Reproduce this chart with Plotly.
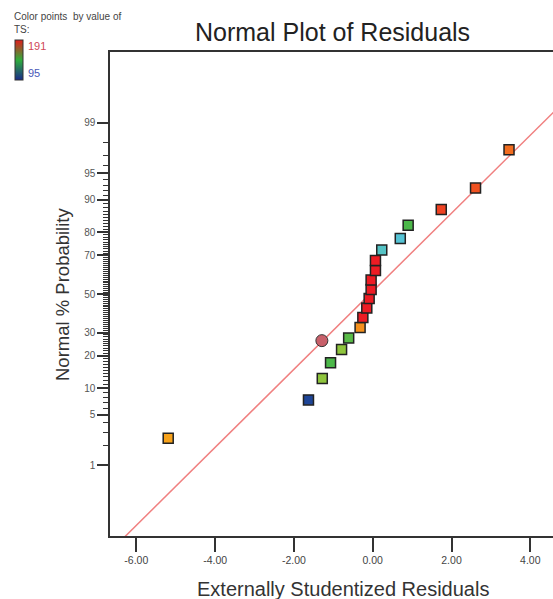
import plotly.graph_objects as go
from statistics import NormalDist

nd = NormalDist()

# ---- data ----
residuals = [-5.19, -1.63, -1.28, -1.07, -0.79, -0.61, -0.32, -0.25, -0.15, -0.09,
             -0.04, -0.04, 0.07, 0.07, 0.23, 0.70, 0.90, 1.74, 2.61, 3.46]
prob_pct = [2.5, 7.5, 12.5, 17.5, 22.5, 27.5, 32.5, 37.5, 42.5, 47.5,
            52.5, 57.5, 62.5, 67.5, 72.5, 77.5, 82.5, 87.5, 92.5, 97.5]
ts_values = [167, 96, 153, 143, 153, 145, 170, 191, 191, 191,
             191, 191, 191, 191, 122, 119, 143, 184, 181, 176]
highlight_x = [-1.29]
highlight_p = [26.3]
line_mu = -0.07
line_sigma = 1.885
line_x = [-7.0, 5.0]
ts_min, ts_max = 95, 191
y_major = [1, 5, 10, 20, 30, 50, 70, 80, 90, 95, 99]
y_minor = [p for p in range(1, 100) if p not in y_major]
x_ticks = [-6, -4, -2, 0, 2, 4]

# ---- layout geometry (pixels) ----
W, H = 553, 599
L, T, B = 110, 52, 63
plot_w = W - L
plot_h = H - T - B
X_PER = 39.4
X0_PX = 372.7
x_range = [(L - X0_PX) / X_PER, (W - X0_PX) / X_PER]
y_range = [-3.29, 3.29]


def z(p):
    return nd.inv_cdf(p / 100.0)


def px_x(px):
    return (px - L) / plot_w


def px_y(py):
    return (H - B - py) / plot_h


colorscale = [[0, '#1c3f94'], [0.25, '#55c3d5'], [0.5, '#4cb84a'], [0.6, '#8cc63e'],
              [0.75, '#f7a21b'], [0.85, '#f26a1f'], [1, '#ed1c24']]
bar_colorscale = [[0, '#1a2a8a'], [0.5, '#2fae3c'], [1, '#e21c1c']]

FONT = "Liberation Sans, Arial, sans-serif"

fig = go.Figure()

fig.add_trace(go.Scatter(
    x=line_x, y=[(v - line_mu) / line_sigma for v in line_x],
    mode='lines', line=dict(color='#f08080', width=1.5),
    hoverinfo='skip', showlegend=False))

fig.add_trace(go.Scatter(
    x=residuals, y=[z(p) for p in prob_pct], mode='markers', showlegend=False,
    marker=dict(symbol='square', size=10, color=ts_values, cmin=ts_min, cmax=ts_max,
                colorscale=colorscale, line=dict(color='#222222', width=1.5),
                showscale=False)))

# colour key (legend bar only)
fig.add_trace(go.Scatter(
    x=[None], y=[None], mode='markers', showlegend=False, hoverinfo='skip',
    marker=dict(color=[ts_min], cmin=ts_min, cmax=ts_max, colorscale=bar_colorscale,
                showscale=True,
                colorbar=dict(x=px_x(15), xanchor='left', y=px_y(40), yanchor='top',
                              lenmode='pixels', len=40, thickness=8,
                              xpad=0, ypad=0, outlinewidth=1, outlinecolor='#333',
                              showticklabels=False, ticks=''))))

fig.add_trace(go.Scatter(
    x=highlight_x, y=[z(p) for p in highlight_p], mode='markers', showlegend=False,
    marker=dict(symbol='circle', size=12, color='#c8606a',
                line=dict(color='#333333', width=1))))

annotations = [
    dict(text='Normal Plot of Residuals', x=px_x(332), y=px_y(32), xref='paper', yref='paper',
         xanchor='center', yanchor='middle', showarrow=False,
         font=dict(family=FONT, size=25, color='#222')),
    dict(text='Externally Studentized Residuals', x=px_x(343), y=px_y(589), xref='paper',
         yref='paper', xanchor='center', yanchor='middle', showarrow=False,
         font=dict(family=FONT, size=20, color='#333')),
    dict(text='Normal % Probability', x=px_x(62), y=px_y(295), xref='paper', yref='paper',
         xanchor='center', yanchor='middle', showarrow=False, textangle=-90,
         font=dict(family=FONT, size=18.5, color='#333')),
    dict(text='Color points  by value of', x=px_x(12), y=px_y(16), xref='paper', yref='paper',
         xanchor='left', yanchor='middle', showarrow=False,
         font=dict(family=FONT, size=10, color='#444')),
    dict(text='TS:', x=px_x(12), y=px_y(29), xref='paper', yref='paper',
         xanchor='left', yanchor='middle', showarrow=False,
         font=dict(family=FONT, size=10, color='#444')),
    dict(text=str(ts_max), x=px_x(26), y=px_y(46), xref='paper', yref='paper',
         xanchor='left', yanchor='middle', showarrow=False,
         font=dict(family=FONT, size=11, color='#d04858')),
    dict(text=str(ts_min), x=px_x(26), y=px_y(73), xref='paper', yref='paper',
         xanchor='left', yanchor='middle', showarrow=False,
         font=dict(family=FONT, size=11, color='#4a58b8')),
]

fig.update_layout(
    width=W, height=H, margin=dict(l=L, r=0, t=T, b=B, autoexpand=False),
    paper_bgcolor='white', plot_bgcolor='white',
    annotations=annotations,
    xaxis=dict(range=x_range, showgrid=False, zeroline=False, showline=True,
               linecolor='#333', linewidth=1.5, mirror=True,
               tickmode='array', tickvals=x_ticks, ticktext=[f'{v:.2f}' for v in x_ticks],
               ticks='outside', ticklen=14, tickwidth=1.5, tickcolor='#333',
               tickfont=dict(family=FONT, size=10.5, color='#444')),
    yaxis=dict(range=y_range, showgrid=False, zeroline=False, showline=True,
               linecolor='#333', linewidth=1.5,
               tickmode='array', tickvals=[z(p) for p in y_major],
               ticktext=[str(p) for p in y_major],
               ticks='outside', ticklen=11, tickwidth=1.5, tickcolor='#333',
               tickfont=dict(family=FONT, size=10, color='#555'),
               minor=dict(tickmode='array', tickvals=[z(p) for p in y_minor],
                          ticks='outside', ticklen=5, tickwidth=1.2, tickcolor='#333',
                          showgrid=False)),
)

fig.write_html("out.html")
